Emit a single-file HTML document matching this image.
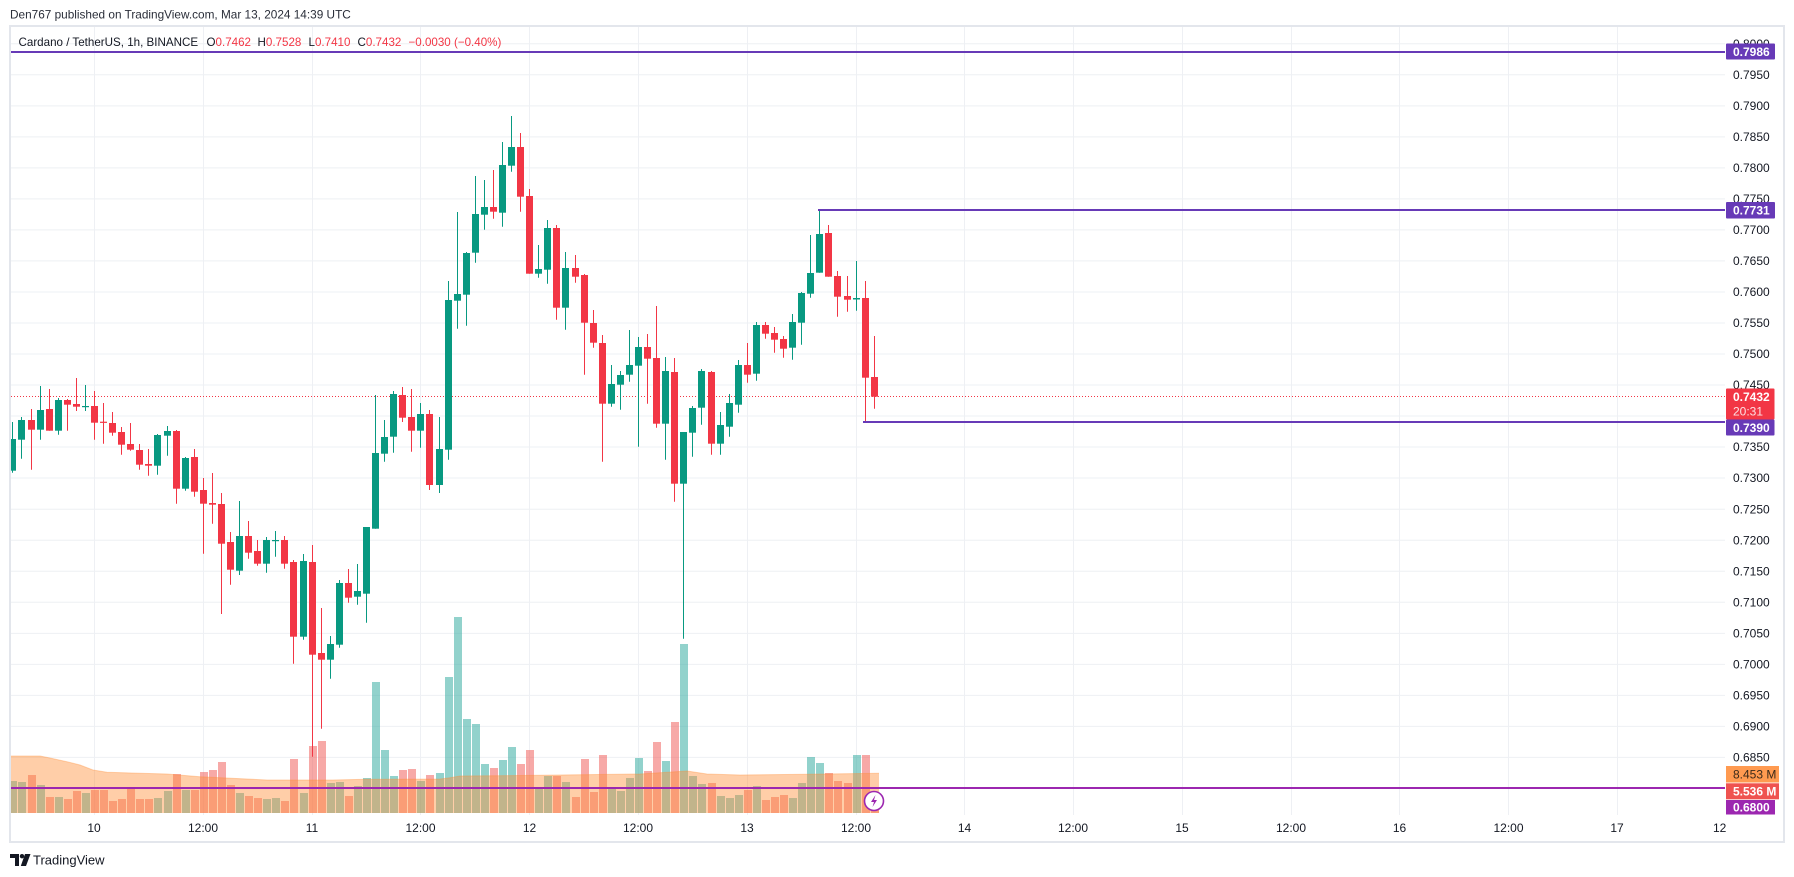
<!DOCTYPE html>
<html><head><meta charset="utf-8"><style>
html,body{margin:0;padding:0;background:#fff;width:1794px;height:877px;overflow:hidden}
svg{display:block}
text{font-family:"Liberation Sans",sans-serif}
</style></head><body>
<svg width="1794" height="877" viewBox="0 0 1794 877" xmlns="http://www.w3.org/2000/svg">
<defs>
<clipPath id="plot"><rect x="11" y="27" width="1714" height="788"/></clipPath>
<clipPath id="taxis"><rect x="11" y="815" width="1716" height="26"/></clipPath>
</defs>
<rect x="0" y="0" width="1794" height="877" fill="#fff"/>
<text x="10" y="18.5" font-size="11.8" fill="#2a2e39">Den767 published on TradingView.com, Mar 13, 2024 14:39 UTC</text>
<rect x="10" y="26" width="1774" height="816" fill="#fff" stroke="#E3E6EC" stroke-width="2"/>

<g clip-path="url(#plot)">
<g stroke="#EEF0F4" stroke-width="1">
<path d="M11 43.8H1725M11 74.8H1725M11 105.9H1725M11 136.9H1725M11 167.9H1725M11 198.9H1725M11 229.9H1725M11 260.9H1725M11 292H1725M11 323H1725M11 354H1725M11 385H1725M11 416H1725M11 447H1725M11 478H1725M11 509.3H1725M11 540.3H1725M11 571.3H1725M11 602.3H1725M11 633.4H1725M11 664.4H1725M11 695.4H1725M11 726.4H1725M11 757.4H1725"/>
<path d="M94.5 27V815M203.5 27V815M312.5 27V815M420.5 27V815M529.5 27V815M638.5 27V815M747.5 27V815M856.5 27V815M964.5 27V815M1073.5 27V815M1182.5 27V815M1291.5 27V815M1399.5 27V815M1508.5 27V815M1617.5 27V815"/>
</g>

<!-- volume bars -->
<g fill="rgba(38,166,154,0.5)">
<rect x="9" y="781" width="8" height="32"/><rect x="18" y="782" width="8" height="31"/><rect x="37" y="785" width="8" height="28"/><rect x="55" y="797" width="8" height="16"/><rect x="82" y="793" width="8" height="20"/><rect x="154" y="798" width="8" height="15"/><rect x="164" y="791" width="8" height="22"/><rect x="182" y="790" width="8" height="23"/><rect x="236" y="793" width="8" height="20"/><rect x="263" y="799" width="8" height="14"/><rect x="272" y="798" width="8" height="15"/><rect x="300" y="793" width="8" height="20"/><rect x="327" y="783" width="8" height="30"/><rect x="336" y="782" width="8" height="31"/><rect x="354" y="786" width="8" height="27"/><rect x="363" y="778" width="8" height="35"/><rect x="372" y="682" width="8" height="131"/><rect x="381" y="750" width="8" height="63"/><rect x="390" y="776" width="8" height="37"/><rect x="417" y="781" width="8" height="32"/><rect x="436" y="773" width="8" height="40"/><rect x="445" y="677" width="8" height="136"/><rect x="454" y="617" width="8" height="196"/><rect x="463" y="719" width="8" height="94"/><rect x="472" y="724" width="8" height="89"/><rect x="481" y="764" width="8" height="49"/><rect x="499" y="760" width="8" height="53"/><rect x="508" y="747" width="8" height="66"/><rect x="535" y="787" width="8" height="26"/><rect x="544" y="776" width="8" height="37"/><rect x="562" y="782" width="8" height="31"/><rect x="608" y="788" width="8" height="25"/><rect x="617" y="791" width="8" height="22"/><rect x="626" y="778" width="8" height="35"/><rect x="635" y="758" width="8" height="55"/><rect x="662" y="761" width="8" height="52"/><rect x="680" y="644" width="8" height="169"/><rect x="689" y="776" width="8" height="37"/><rect x="698" y="784" width="8" height="29"/><rect x="717" y="796" width="8" height="17"/><rect x="726" y="798" width="8" height="15"/><rect x="735" y="795" width="8" height="18"/><rect x="753" y="786" width="8" height="27"/><rect x="789" y="798" width="8" height="15"/><rect x="798" y="783" width="8" height="30"/><rect x="807" y="757" width="8" height="56"/><rect x="816" y="763" width="8" height="50"/><rect x="853" y="755" width="8" height="58"/>
</g>
<g fill="rgba(239,83,80,0.5)">
<rect x="28" y="775" width="8" height="38"/><rect x="46" y="797" width="8" height="16"/><rect x="64" y="799" width="8" height="14"/><rect x="73" y="791" width="8" height="22"/><rect x="91" y="790" width="8" height="23"/><rect x="100" y="790" width="8" height="23"/><rect x="109" y="801" width="8" height="12"/><rect x="118" y="799" width="8" height="14"/><rect x="127" y="789" width="8" height="24"/><rect x="136" y="799" width="8" height="14"/><rect x="145" y="799" width="8" height="14"/><rect x="173" y="774" width="8" height="39"/><rect x="191" y="790" width="8" height="23"/><rect x="200" y="772" width="8" height="41"/><rect x="209" y="770" width="8" height="43"/><rect x="218" y="762" width="8" height="51"/><rect x="227" y="785" width="8" height="28"/><rect x="245" y="796" width="8" height="17"/><rect x="254" y="798" width="8" height="15"/><rect x="281" y="801" width="8" height="12"/><rect x="290" y="759" width="8" height="54"/><rect x="309" y="746" width="8" height="67"/><rect x="318" y="741" width="8" height="72"/><rect x="345" y="796" width="8" height="17"/><rect x="399" y="770" width="8" height="43"/><rect x="408" y="769" width="8" height="44"/><rect x="426" y="775" width="8" height="38"/><rect x="490" y="768" width="8" height="45"/><rect x="517" y="764" width="8" height="49"/><rect x="526" y="750" width="8" height="63"/><rect x="553" y="776" width="8" height="37"/><rect x="572" y="797" width="8" height="16"/><rect x="581" y="759" width="8" height="54"/><rect x="590" y="792" width="8" height="21"/><rect x="599" y="755" width="8" height="58"/><rect x="644" y="771" width="8" height="42"/><rect x="653" y="742" width="8" height="71"/><rect x="671" y="722" width="8" height="91"/><rect x="708" y="783" width="8" height="30"/><rect x="744" y="790" width="8" height="23"/><rect x="762" y="800" width="8" height="13"/><rect x="771" y="797" width="8" height="16"/><rect x="780" y="795" width="8" height="18"/><rect x="825" y="773" width="8" height="40"/><rect x="834" y="781" width="8" height="32"/><rect x="844" y="783" width="8" height="30"/><rect x="862" y="755" width="8" height="58"/><rect x="871" y="800" width="8" height="13"/>
</g>
<!-- volume MA area -->
<path d="M11 756 L40 756 L50 758 L67 761.7 L80 765 L93 770 L107 772.3 L167 774 L200 776.7 L267 780 L333 780 L367 779.3 L440 779 L450 777.7 L460 776 L540 775.3 L640 774 L687 771 L707 774 L740 775 L807 774.3 L879 773.3 L879 813 L11 813 Z" fill="rgba(255,141,53,0.43)"/>
<path d="M11 756 L40 756 L50 758 L67 761.7 L80 765 L93 770 L107 772.3 L167 774 L200 776.7 L267 780 L333 780 L367 779.3 L440 779 L450 777.7 L460 776 L540 775.3 L640 774 L687 771 L707 774 L740 775 L807 774.3 L879 773.3" fill="none" stroke="rgba(255,141,53,0.35)" stroke-width="1"/>

<!-- current price dotted line -->
<path d="M11 396.5H1725" stroke="#F23645" stroke-width="1" stroke-dasharray="1 2"/>

<!-- green candles -->
<g stroke="#089981" stroke-width="1" fill="none">
<path d="M12.5 422V472.7M21.5 417V458.7M40.5 386V439.7M58.5 398V434.7M85.5 385V411M157.5 434V474.7M167.5 426V455.7M185.5 457V490.7M239.5 501V575M266.5 537V572.7M275.5 531V556.7M303.5 554V639.7M330.5 636V678.7M339.5 580V647.7M357.5 564V604.7M366.5 527V622.7M375.5 395V528.7M384.5 420V461.7M393.5 391V452.7M420.5 403V447.7M439.5 417V493M448.5 281V459.7M457.5 212V328.7M466.5 252V325.7M475.5 176V262.7M484.5 180V229.7M502.5 142V226.7M511.5 116V171.7M538.5 245V277.7M547.5 220V283.7M565.5 252V329.7M611.5 365V406.7M620.5 371V409.7M629.5 330V381.7M638.5 337V446.7M665.5 357V459.7M683.5 432V638.7M692.5 406V456.7M701.5 369V424.7M720.5 412V454.7M729.5 394V436.7M738.5 360V412.7M756.5 322V380.7M792.5 314V359.7M801.5 292V344.7M810.5 235V297.7M819.5 210V272.7M856.5 261V310.7"/>
</g>
<g fill="#089981">
<rect x="9" y="439" width="7" height="31.7"/><rect x="18" y="420" width="7" height="19.7"/><rect x="37" y="410" width="7" height="19.7"/><rect x="55" y="400" width="7" height="30.7"/><rect x="82" y="406" width="7" height="1.2"/><rect x="154" y="435" width="7" height="30.7"/><rect x="164" y="431" width="7" height="4.7"/><rect x="182" y="458" width="7" height="30.7"/><rect x="236" y="536" width="7" height="34.7"/><rect x="263" y="540" width="7" height="23.7"/><rect x="272" y="540" width="7" height="1.2"/><rect x="300" y="561" width="7" height="75.7"/><rect x="327" y="644" width="7" height="15.7"/><rect x="336" y="583" width="7" height="61.7"/><rect x="354" y="591" width="7" height="5.7"/><rect x="363" y="527" width="7" height="66.7"/><rect x="372" y="453" width="7" height="75.7"/><rect x="381" y="437" width="7" height="16.7"/><rect x="390" y="394" width="7" height="42.7"/><rect x="417" y="414" width="7" height="16.7"/><rect x="436" y="449" width="7" height="36"/><rect x="445" y="300" width="7" height="149.7"/><rect x="454" y="294" width="7" height="6.7"/><rect x="463" y="253" width="7" height="41.7"/><rect x="472" y="214" width="7" height="38.7"/><rect x="481" y="207" width="7" height="7.7"/><rect x="499" y="165" width="7" height="47.7"/><rect x="508" y="147" width="7" height="18.7"/><rect x="535" y="269" width="7" height="4.7"/><rect x="544" y="228" width="7" height="41.7"/><rect x="562" y="268" width="7" height="39.7"/><rect x="608" y="384" width="7" height="19.7"/><rect x="617" y="375" width="7" height="9.7"/><rect x="626" y="365" width="7" height="9.7"/><rect x="635" y="347" width="7" height="18.7"/><rect x="662" y="371" width="7" height="52.7"/><rect x="680" y="432" width="7" height="51.7"/><rect x="689" y="408" width="7" height="24.7"/><rect x="698" y="371" width="7" height="36.7"/><rect x="717" y="425" width="7" height="18.7"/><rect x="726" y="403" width="7" height="23.7"/><rect x="735" y="365" width="7" height="39.7"/><rect x="753" y="325" width="7" height="48.7"/><rect x="789" y="322" width="7" height="25.7"/><rect x="798" y="293" width="7" height="29.7"/><rect x="807" y="273" width="7" height="20.7"/><rect x="816" y="234" width="7" height="38.7"/><rect x="853" y="298" width="7" height="1.5"/>
</g>
<!-- red candles -->
<g stroke="#F23645" stroke-width="1" fill="none">
<path d="M31.5 409V469.7M49.5 389V430.7M67.5 399V430.7M76.5 378V411M94.5 391V439.7M103.5 403V443.7M112.5 412V435.7M121.5 427V454.7M130.5 423V450.7M139.5 444V469.7M148.5 449V475.7M176.5 430V503.7M194.5 449V496.7M203.5 478V553.7M212.5 473V523.7M221.5 493V614M230.5 532V584.7M248.5 521V558.7M257.5 540V565.7M284.5 536V568.7M293.5 560V663.7M312.5 545V756.7M321.5 608V728.7M348.5 569V602.7M402.5 387V422M411.5 389V451.7M429.5 410V490M493.5 170V218.7M520.5 133V211.7M529.5 189V273.7M556.5 225V319.7M575.5 255V282.7M584.5 274V374.7M593.5 310V347.7M602.5 335V461.7M647.5 334V403.7M656.5 306V427.7M674.5 358V501.7M711.5 371V454.7M747.5 343V382.7M765.5 322V338.7M774.5 327V352.7M783.5 336V357.7M828.5 225V276.7M837.5 271V316.7M847.5 276V311.7M865.5 281V421.7M874.5 336V408.7"/>
</g>
<g fill="#F23645">
<rect x="28" y="420" width="7" height="9.7"/><rect x="46" y="409" width="7" height="21.7"/><rect x="64" y="400" width="7" height="4.7"/><rect x="73" y="404" width="7" height="2.7"/><rect x="91" y="406" width="7" height="16.7"/><rect x="100" y="421.7" width="7" height="1.2"/><rect x="109" y="423" width="7" height="9.7"/><rect x="118" y="432" width="7" height="12.7"/><rect x="127" y="444" width="7" height="5.7"/><rect x="136" y="450" width="7" height="14.7"/><rect x="145" y="464" width="7" height="1.7"/><rect x="173" y="431" width="7" height="57.7"/><rect x="191" y="457" width="7" height="34.7"/><rect x="200" y="490" width="7" height="13.7"/><rect x="209" y="503" width="7" height="1.7"/><rect x="218" y="504" width="7" height="39.7"/><rect x="227" y="542" width="7" height="27.7"/><rect x="245" y="536" width="7" height="16.7"/><rect x="254" y="551" width="7" height="12.7"/><rect x="281" y="540" width="7" height="23.7"/><rect x="290" y="562" width="7" height="74.7"/><rect x="309" y="562" width="7" height="92.7"/><rect x="318" y="653" width="7" height="6.7"/><rect x="345" y="583" width="7" height="14.7"/><rect x="399" y="395" width="7" height="22.7"/><rect x="408" y="417" width="7" height="13.7"/><rect x="426" y="414" width="7" height="71"/><rect x="490" y="207" width="7" height="4.7"/><rect x="517" y="147" width="7" height="49.7"/><rect x="526" y="196" width="7" height="77.7"/><rect x="553" y="228" width="7" height="79.7"/><rect x="572" y="268" width="7" height="8.7"/><rect x="581" y="275" width="7" height="47.7"/><rect x="590" y="323" width="7" height="19.7"/><rect x="599" y="343" width="7" height="60.7"/><rect x="644" y="347" width="7" height="11.7"/><rect x="653" y="358" width="7" height="65.7"/><rect x="671" y="372" width="7" height="111.7"/><rect x="708" y="372" width="7" height="71.7"/><rect x="744" y="365" width="7" height="9.7"/><rect x="762" y="325" width="7" height="8.7"/><rect x="771" y="333" width="7" height="6.7"/><rect x="780" y="339" width="7" height="9.7"/><rect x="825" y="233" width="7" height="43.7"/><rect x="834" y="276" width="7" height="20.7"/><rect x="844" y="296" width="7" height="3.7"/><rect x="862" y="298" width="7" height="79.7"/><rect x="871" y="377" width="7" height="19.7"/>
</g>

<!-- horizontal level lines -->
<g stroke="#673AB7" stroke-width="2" fill="none">
<path d="M11 52H1725"/>
<path d="M818 210H1725"/>
<path d="M863 422H1725"/>
</g>
<path d="M11 788H1725" stroke="#9C27B0" stroke-width="2"/>

<!-- lightning icon -->
<circle cx="874" cy="801" r="9.5" fill="#fff" stroke="#9C27B0" stroke-width="1.6"/>
<path d="M875.5 795 L871 802 L874 802 L872.5 807 L877 800 L874 800 Z" fill="#9C27B0"/>
</g>

<!-- legend -->
<g font-size="11.6">
<text x="18.5" y="46" fill="#131722">Cardano / TetherUS, 1h, BINANCE</text>
<text x="206.5" y="46" fill="#131722">O<tspan fill="#F23645">0.7462</tspan></text>
<text x="257.5" y="46" fill="#131722">H<tspan fill="#F23645">0.7528</tspan></text>
<text x="308.5" y="46" fill="#131722">L<tspan fill="#F23645">0.7410</tspan></text>
<text x="357.5" y="46" fill="#131722">C<tspan fill="#F23645">0.7432</tspan></text>
<text x="408.5" y="46" fill="#F23645">−0.0030 (−0.40%)</text>
</g>

<!-- price axis labels -->
<g font-size="12" fill="#131722">
<text x="1733" y="48">0.8000</text>
<text x="1733" y="79">0.7950</text>
<text x="1733" y="110">0.7900</text>
<text x="1733" y="141">0.7850</text>
<text x="1733" y="172">0.7800</text>
<text x="1733" y="203">0.7750</text>
<text x="1733" y="234">0.7700</text>
<text x="1733" y="265">0.7650</text>
<text x="1733" y="296">0.7600</text>
<text x="1733" y="327">0.7550</text>
<text x="1733" y="358">0.7500</text>
<text x="1733" y="389">0.7450</text>
<text x="1733" y="451">0.7350</text>
<text x="1733" y="482">0.7300</text>
<text x="1733" y="513.5">0.7250</text>
<text x="1733" y="544.5">0.7200</text>
<text x="1733" y="575.5">0.7150</text>
<text x="1733" y="606.5">0.7100</text>
<text x="1733" y="637.5">0.7050</text>
<text x="1733" y="668.5">0.7000</text>
<text x="1733" y="699.5">0.6950</text>
<text x="1733" y="730.5">0.6900</text>
<text x="1733" y="761.5">0.6850</text>
</g>

<!-- label boxes -->
<rect x="1726" y="43.5" width="49" height="16" rx="1" fill="#673AB7"/>
<text x="1733" y="56" font-size="12" font-weight="bold" fill="#fff">0.7986</text>
<rect x="1726" y="202" width="49" height="16.5" rx="1" fill="#673AB7"/>
<text x="1733" y="214.5" font-size="12" font-weight="bold" fill="#fff">0.7731</text>
<rect x="1726" y="388.5" width="48.5" height="31" rx="1" fill="#F23645"/>
<text x="1733" y="401" font-size="12" font-weight="bold" fill="#fff">0.7432</text>
<text x="1733" y="415.5" font-size="12" fill="#FDE0E3">20:31</text>
<rect x="1726" y="419.5" width="48.5" height="16" rx="1" fill="#673AB7"/>
<text x="1733" y="432" font-size="12" font-weight="bold" fill="#fff">0.7390</text>
<rect x="1726" y="766" width="53" height="16.5" fill="#FF9A50"/>
<text x="1733" y="778.5" font-size="12" fill="#3b2a1a">8.453 M</text>
<rect x="1726" y="783.3" width="53" height="16" fill="#EF5350"/>
<text x="1733" y="795.5" font-size="12" font-weight="bold" fill="#fff">5.536 M</text>
<rect x="1726" y="800" width="49" height="14.5" fill="#9C27B0"/>
<text x="1733" y="811.5" font-size="12" font-weight="bold" fill="#fff">0.6800</text>

<!-- time axis -->
<g clip-path="url(#taxis)" font-size="12" fill="#131722" text-anchor="middle">
<text x="94" y="832">10</text>
<text x="203" y="832">12:00</text>
<text x="312" y="832">11</text>
<text x="420.5" y="832">12:00</text>
<text x="529.5" y="832">12</text>
<text x="638" y="832">12:00</text>
<text x="747" y="832">13</text>
<text x="856" y="832">12:00</text>
<text x="964.5" y="832">14</text>
<text x="1073" y="832">12:00</text>
<text x="1182" y="832">15</text>
<text x="1291" y="832">12:00</text>
<text x="1399.5" y="832">16</text>
<text x="1508.5" y="832">12:00</text>
<text x="1617" y="832">17</text>
<text x="1728" y="832">12:00</text>
</g>

<!-- footer logo -->
<g fill="#131722">
<path d="M10 854 H19 V866 H15 V858 H10 Z"/>
<circle cx="22" cy="856.2" r="2.2"/>
<path d="M25 854 H30.5 L26 866 H20.8 Z"/>
</g>
<text x="33" y="864.5" font-size="13" fill="#131722">TradingView</text>
</svg>
</body></html>
